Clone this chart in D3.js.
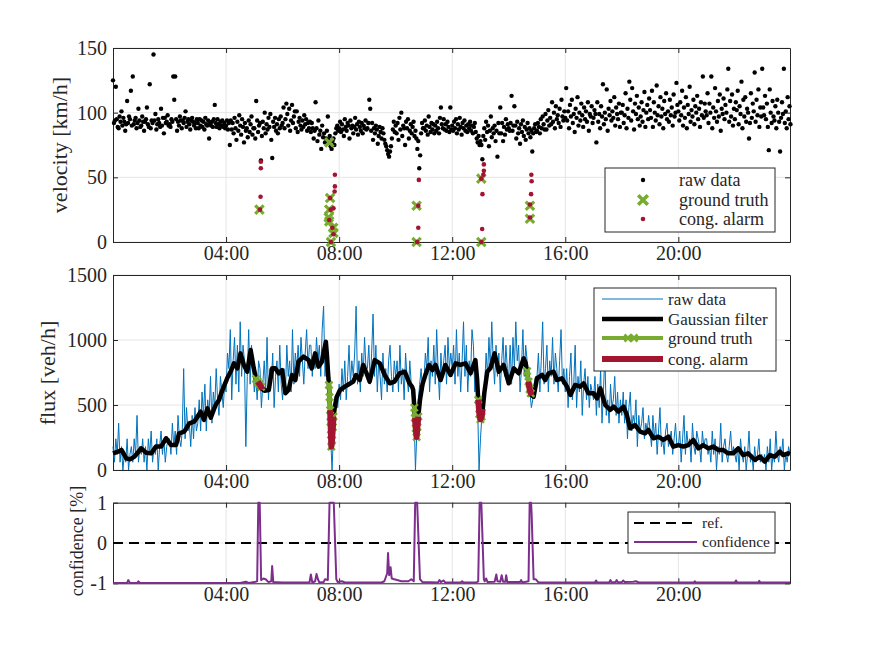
<!DOCTYPE html>
<html>
<head>
<meta charset="utf-8">
<script src="https://cdn.jsdelivr.net/npm/d3@7"></script>
<style>
  body { margin: 0; background: #fff; }
</style>
</head>
<body>
<div id="root"></div>
<script>
// time axis (hours of the day)
var hourTicks = [4, 8, 12, 16, 20];
var tMax = 23.95;
var velocityTicks = [0, 50, 100, 150];
var fluxTicks = [0, 500, 1000, 1500];
var confTicks = [-1, 0, 1];

// raw velocity [km/h], one sample every 2 min from 00:00 (one row = one hour)
var velocityStep = 2 / 60;
var velocity = [
  125,92,94,120,95,89,88,97,93,101,90,96,93,86,91,109,92,97,95,117,90,128,91,94,96,88,92,103,94,89,
  90,97,93,86,93,95,104,91,89,122,88,94,92,145,94,99,87,91,95,92,89,103,90,96,84,96,92,93,98,90,
  91,89,95,93,128,110,128,95,86,93,90,97,94,88,94,92,96,101,89,93,95,91,87,94,96,93,90,92,88,95,
  92,88,95,90,94,89,93,87,96,91,90,94,80,92,90,93,89,95,106,92,89,95,91,88,93,90,94,89,92,88,
  90,94,87,92,75,94,87,92,84,96,88,79,93,86,98,90,83,95,89,77,92,86,88,81,94,85,91,97,83,88,
  88,80,109,94,85,90,92,63,82,93,88,100,84,91,87,96,89,99,79,65,93,89,96,86,91,84,95,88,97,90,
  92,104,88,95,107,99,90,103,86,94,106,92,97,101,88,101,85,93,96,90,87,94,89,98,91,95,86,92,88,93,
  85,92,88,80,86,108,88,78,94,83,86,72,90,81,84,77,80,86,97,79,82,74,72,78,80,75,84,88,90,86,
  88,93,85,91,87,82,95,89,86,92,90,80,94,88,90,84,89,96,87,91,83,93,89,86,92,84,90,88,94,87,
  88,92,110,103,86,92,79,88,84,90,87,76,82,89,85,80,88,84,79,76,74,71,68,66,70,74,80,87,93,85,
  90,84,92,79,96,87,100,82,90,88,75,93,88,95,80,86,91,84,89,93,82,86,80,72,78,57,67,84,92,88,
  88,94,86,90,83,97,89,85,92,87,91,84,90,86,93,88,84,96,104,91,88,95,87,91,86,93,89,85,104,87,
  90,86,93,88,95,84,91,87,96,89,83,92,88,94,86,90,85,91,88,93,86,90,84,89,92,85,80,77,82,75,
  78,75,64,82,88,79,93,85,90,74,86,97,81,88,84,90,78,86,66,92,84,104,84,92,78,89,83,95,87,91,
  88,86,92,113,86,90,105,90,80,93,84,88,76,91,85,94,82,89,79,87,92,84,88,81,86,70,84,88,91,85,
  86,92,89,84,95,88,97,91,87,99,87,94,102,90,96,91,108,93,100,88,105,95,98,92,103,89,110,97,94,101,
  96,119,94,101,88,106,97,110,92,99,85,103,96,112,90,100,94,107,98,89,104,95,101,93,108,86,99,97,105,92,
  96,102,99,77,108,93,99,88,105,97,122,91,100,95,118,86,103,98,109,94,101,96,112,90,104,99,95,107,89,100,
  100,106,92,98,115,88,103,96,124,110,94,119,101,87,107,99,113,95,104,90,97,108,93,102,116,89,100,106,95,111,
  102,96,117,89,108,100,94,121,98,105,91,112,97,103,88,109,99,115,95,101,93,110,98,104,90,114,97,100,123,106,
  101,94,108,98,117,90,104,96,112,88,106,99,120,93,102,97,110,91,105,100,113,95,103,89,108,98,128,96,107,101,
  98,115,92,107,100,128,88,104,96,119,101,93,109,97,114,86,103,99,111,95,106,100,118,134,93,109,97,114,90,103,
  95,108,102,117,91,105,99,124,88,110,97,112,93,103,100,80,92,115,96,107,101,131,93,110,98,118,89,104,97,134,
  104,98,113,95,107,89,71,118,100,92,109,97,94,105,88,110,100,93,70,96,108,99,134,92,101,88,112,95,105,91
];

// ground truth and congestion alarm on the velocity panel [hour, km/h]
var gtVelocity = [
  [5.18,25],[7.65,77],[7.68,34],[7.65,25],[7.63,19],[7.65,16],[7.79,11],[7.8,7],[7.71,0],
  [10.74,28],[10.74,0],[13.03,49],[13.03,0],[14.75,28],[14.75,18]
];
var alarmVelocity = [
  [5.23,62],[5.23,57],[5.22,35],[5.2,25],
  [7.85,52],[7.85,43],[7.84,39],[7.68,34],[7.8,26],[7.7,25],[7.65,17],[7.76,11],[7.8,6],[7.71,0],
  [10.82,48],[10.8,28],[10.8,11],[10.76,0],
  [13.12,60],[13.12,55],[13.1,52],[13.03,49],[13.07,37],[13.06,10],[13.03,0],
  [14.8,52],[14.81,47],[14.79,37],[14.75,29],[14.75,19]
];

// raw flux [veh/h], one sample every 3 min from 00:00 (one row = one hour)
var fluxStep = 3 / 60;
var flux = [
  180,60,240,120,360,60,180,0,120,60,240,0,120,180,60,240,120,420,60,180,
  120,240,60,180,0,240,120,300,60,180,120,240,0,180,300,120,240,60,180,240,
  240,120,360,180,300,120,420,240,180,300,780,240,480,300,360,180,420,240,480,300,
  360,540,300,600,420,660,300,540,420,720,360,600,480,780,540,420,720,600,480,660,
  600,900,780,1080,540,840,1020,660,960,600,1140,720,960,840,180,720,1080,660,960,780,
  600,720,540,840,780,480,660,840,600,1020,540,780,660,900,480,720,840,600,960,660,
  540,780,600,960,720,840,600,1080,660,900,780,960,720,1020,840,660,900,1080,780,960,
  960,720,900,780,1020,840,960,720,1080,1260,720,900,600,420,240,0,300,420,540,480,
  660,540,780,600,840,540,720,960,660,840,720,900,1260,660,840,600,900,720,1020,780,
  780,960,660,900,1200,720,960,600,840,720,540,900,660,780,600,840,960,720,600,840,
  720,840,600,960,660,780,540,900,720,600,840,660,540,420,0,300,540,660,780,600,
  660,900,780,1020,600,840,720,960,660,1080,780,540,900,720,840,960,660,1020,780,900,
  780,960,660,1080,720,900,600,840,1140,720,960,600,840,720,1080,960,600,720,480,0,
  240,420,540,660,900,720,1020,780,1140,840,660,960,720,900,600,840,1020,720,960,780,
  720,960,660,1020,780,1140,840,960,600,780,1080,720,960,840,660,600,480,540,660,720,
  720,900,600,840,1140,660,780,960,600,840,720,1020,660,900,780,600,840,1080,660,780,
  600,780,480,720,900,540,660,960,480,720,600,840,420,660,780,540,720,480,660,600,
  540,720,420,660,480,780,360,600,900,420,540,360,660,480,540,720,420,600,360,540,
  420,600,360,540,240,480,600,300,420,360,540,180,420,300,360,480,240,360,300,420,
  300,180,420,240,360,120,300,480,180,240,120,300,360,180,240,300,120,240,360,180,
  180,300,60,240,420,120,300,180,240,60,360,180,120,300,240,180,60,300,180,240,
  240,120,180,60,300,120,240,0,180,120,360,60,180,240,120,60,180,300,120,180,
  120,60,180,0,240,120,60,180,0,120,300,60,120,0,180,60,120,240,60,120,
  60,120,0,180,60,240,0,120,60,300,120,60,180,120,240,0,120,60,180,120
];

// Gaussian filtered flux [hour, veh/h]
var gaussian = [
  [0,128],[0.18,141],[0.3,154],[0.47,90],[0.6,82],[0.76,103],[1.0,167],[1.17,133],[1.35,128],
  [1.52,180],[1.7,180],[1.88,244],[2.05,192],[2.23,192],[2.34,282],[2.52,295],[2.7,359],[2.87,372],
  [2.99,410],[3.1,449],[3.22,385],[3.34,474],[3.46,403],[3.63,500],[3.75,538],[3.87,615],[4.04,705],
  [4.16,756],[4.28,820],[4.4,782],[4.51,897],[4.63,808],[4.75,756],[4.87,923],[4.98,782],
  [5.06,700],[5.12,680],[5.18,660],[5.24,640],[5.3,620],[5.36,610],[5.51,615],[5.63,782],[5.74,782],
  [5.86,744],[5.98,769],[6.1,590],[6.21,615],[6.33,731],[6.45,692],[6.56,833],[6.74,872],[6.92,846],
  [7.03,782],[7.15,897],[7.27,795],[7.39,833],[7.45,900],[7.53,987],[7.57,880],[7.61,740],
  [7.64,654],[7.66,560],[7.68,460],[7.695,370],[7.71,270],[7.725,180],[7.75,230],[7.78,330],
  [7.8,410],[7.85,487],[7.91,560],[8.03,615],[8.2,641],[8.3,654],[8.5,680],[8.6,731],[8.73,692],
  [8.85,808],[8.97,744],[9.08,680],[9.26,846],[9.44,820],[9.61,731],[9.79,667],[9.96,680],
  [10.14,744],[10.32,756],[10.49,667],[10.58,640],[10.62,615],[10.66,480],[10.68,400],[10.71,320],
  [10.74,254],[10.77,330],[10.8,410],[10.86,540],[10.95,660],[11.05,730],[11.18,808],[11.3,769],
  [11.41,808],[11.59,692],[11.76,808],[11.94,731],[12.12,820],[12.29,808],[12.47,820],[12.65,744],
  [12.82,846],[12.88,700],
  [12.92,540],[12.96,430],[13.0,390],[13.04,410],[13.08,470],[13.14,600],[13.24,756],[13.35,782],
  [13.5,897],[13.65,756],[13.82,808],[14.0,667],[14.18,782],[14.35,744],[14.53,859],[14.6,820],
  [14.65,760],[14.7,680],[14.74,620],[14.78,590],[14.82,575],[14.88,564],[15.0,705],[15.18,731],
  [15.29,692],[15.41,744],[15.59,756],[15.7,692],[15.88,705],[16.06,641],[16.18,577],[16.35,654],
  [16.53,641],[16.65,667],[16.82,590],[17.0,590],[17.12,551],[17.24,628],[17.41,500],[17.59,462],
  [17.71,487],[17.88,449],[18.06,487],[18.18,423],[18.29,321],[18.47,346],[18.65,295],[18.82,282],
  [18.94,308],[19.12,244],[19.29,256],[19.47,231],[19.65,256],[19.82,180],[20.0,192],[20.18,180],
  [20.35,192],[20.53,231],[20.71,167],[20.88,192],[21.06,167],[21.24,180],[21.41,154],[21.59,154],
  [21.76,128],[21.94,128],[22.12,167],[22.29,115],[22.47,128],[22.71,77],[22.88,103],[23.06,64],
  [23.24,115],[23.41,103],[23.59,141],[23.71,115],[23.88,128],[23.95,120]
];

// ground truth and alarm periods [start hour, end hour]
var gtPeriods = [[5.05,5.25],[7.63,7.81],[10.66,10.8],[12.9,13.06],[14.63,14.8]];
var alarmPeriods = [[5.1,5.3],[7.67,7.81],[10.68,10.8],[12.92,13.08],[14.68,14.82]];

// confidence [hour, value]
var confidence = [
  [0,-0.99],[0.5,-0.99],[0.54,-0.92],[0.6,-0.99],[0.86,-0.99],[0.9,-0.95],[0.95,-0.99],
  [4.5,-0.99],[4.7,-0.96],[4.8,-0.99],[5.0,-0.97],[5.1,-0.95],[5.14,1],[5.19,1],[5.24,-0.92],
  [5.32,-0.88],[5.4,-0.9],[5.5,-0.97],[5.6,-0.95],[5.63,-0.57],[5.67,-0.97],[6.0,-0.98],
  [6.95,-0.98],[7.0,-0.78],[7.05,-0.98],[7.15,-0.95],[7.2,-0.77],[7.25,-0.9],[7.3,-0.98],
  [7.45,-0.97],[7.5,-0.9],[7.6,-0.92],[7.66,1],[7.81,1],[7.9,-0.9],[7.95,-0.97],[8.1,-0.95],
  [8.2,-0.98],[9.5,-0.98],[9.6,-0.95],[9.7,-0.75],[9.73,-0.25],[9.77,-0.8],[9.82,-0.6],
  [9.86,-0.88],[9.95,-0.9],[10.05,-0.92],[10.2,-0.95],[10.45,-0.95],[10.55,-0.9],[10.64,-0.95],
  [10.69,1],[10.76,1],[10.86,-0.9],[10.95,-0.97],[11.5,-0.98],[11.55,-0.92],[11.6,-0.97],
  [11.7,-0.93],[11.75,-0.98],[12.3,-0.98],[12.35,-0.95],[12.4,-0.98],[12.85,-0.98],[12.92,-0.95],
  [12.97,1],[13.03,1],[13.12,-0.9],[13.15,-0.95],[13.2,-0.88],[13.25,-0.97],[13.5,-0.96],
  [13.56,-0.78],[13.6,-0.95],[13.7,-0.96],[13.75,-0.8],[13.8,-0.96],[13.88,-0.96],[13.91,-0.8],
  [13.95,-0.97],[14.4,-0.97],[14.44,-0.92],[14.48,-0.98],[14.7,-0.95],[14.74,1],[14.79,1],
  [14.81,0.72],[14.88,-0.9],[14.96,-0.9],[15.05,-0.98],[17.05,-0.98],[17.09,-0.93],[17.13,-0.98],
  [17.55,-0.98],[17.6,-0.92],[17.64,-0.98],[17.78,-0.97],[17.82,-0.92],[17.86,-0.98],[18.0,-0.97],
  [18.05,-0.93],[18.1,-0.97],[18.4,-0.96],[18.5,-0.95],[18.6,-0.98],[20.55,-0.98],[20.58,-0.95],
  [20.62,-0.98],[22.0,-0.98],[22.04,-0.93],[22.08,-0.98],[22.83,-0.98],[22.86,-0.94],[22.9,-0.98],
  [23.95,-0.98]
];
var refLevel = 0;

function drawChart () {

  var width = 875;
  var height = 656;
  var ink = '#262626';
  var green = '#77AC30';
  var red = '#A2142F';
  var serif = '"Liberation Serif"';

  var svg = d3.select('#root')
    .append('svg')
      .attr('width', width)
      .attr('height', height);

  var x = d3.scaleLinear().domain([0, tMax]).range([113, 790]);
  var yVel = d3.scaleLinear().domain([0, 150]).range([242, 48]);
  var yFlux = d3.scaleLinear().domain([0, 1500]).range([470, 275]);
  var yConf = d3.scaleLinear().domain([-1, 1]).range([583.3, 502.7]);

  function hourLabel(h) { return (h < 10 ? '0' : '') + h + ':00'; }

  function cross(s) {
    return 'M' + (-s) + ',' + (-s) + 'L' + s + ',' + s + 'M' + (-s) + ',' + s + 'L' + s + ',' + (-s);
  }

  function inPeriods(periods) {
    return periods.map(function(p) {
      return gaussian.filter(function(d) { return d[0] >= p[0] && d[0] <= p[1]; });
    });
  }

  function styleAxis(g) {
    g.attr('font-family', null);
    g.selectAll('path').attr('stroke', ink).attr('stroke-width', 1);
    g.selectAll('line').attr('stroke', ink).attr('stroke-width', 1);
    g.selectAll('text')
      .style('font-family', serif)
      .style('font-size', '20px')
      .attr('fill', ink);
  }

  // grid, box, ticks for one panel
  function frame(y, ticks, fmt) {
    var x0 = x.range()[0], x1 = x.range()[1];
    var yb = y.range()[0], yt = y.range()[1];
    var grid = svg.append('g').attr('stroke', '#dedede').attr('stroke-width', 0.8);
    grid.selectAll('.gx').data(hourTicks).enter().append('line')
      .attr('x1', function(d) { return x(d); }).attr('x2', function(d) { return x(d); })
      .attr('y1', yb).attr('y2', yt);
    grid.selectAll('.gy').data(ticks).enter().append('line')
      .attr('x1', x0).attr('x2', x1)
      .attr('y1', function(d) { return y(d); }).attr('y2', function(d) { return y(d); });

    svg.append('g').attr('transform', 'translate(0,' + yb + ')')
      .call(d3.axisBottom(x).tickValues(hourTicks).tickFormat(hourLabel)
        .tickSize(-5).tickSizeOuter(0).tickPadding(4))
      .call(styleAxis);
    svg.append('g').attr('transform', 'translate(0,' + yt + ')')
      .call(d3.axisTop(x).tickValues(hourTicks).tickFormat('')
        .tickSize(-5).tickSizeOuter(0))
      .call(styleAxis);
    svg.append('g').attr('transform', 'translate(' + x0 + ',0)')
      .call(d3.axisLeft(y).tickValues(ticks).tickFormat(fmt)
        .tickSize(-5).tickSizeOuter(0).tickPadding(6))
      .call(styleAxis);
    svg.append('g').attr('transform', 'translate(' + x1 + ',0)')
      .call(d3.axisRight(y).tickValues(ticks).tickFormat('')
        .tickSize(-5).tickSizeOuter(0))
      .call(styleAxis);
  }

  function yLabel(text, xPos, yPos, size) {
    svg.append('text')
      .attr('transform', 'translate(' + xPos + ',' + yPos + ') rotate(-90)')
      .attr('text-anchor', 'middle')
      .attr('fill', ink)
      .style('font-family', serif)
      .style('font-size', size + 'px')
      .text(text);
  }

  function legendBox(x0, y0, x1, y1) {
    svg.append('rect')
      .attr('x', x0).attr('y', y0).attr('width', x1 - x0).attr('height', y1 - y0)
      .attr('fill', '#fff').attr('stroke', ink).attr('stroke-width', 1);
  }

  function legendText(text, xPos, yPos, size) {
    svg.append('text')
      .attr('x', xPos).attr('y', yPos).attr('dy', '0.33em')
      .attr('fill', ink)
      .style('font-family', serif)
      .style('font-size', size + 'px')
      .text(text);
  }

  // ---- velocity panel
  frame(yVel, velocityTicks, function(d) { return d; });
  yLabel('velocity [km/h]', 67, 145, 22);

  svg.append('g').selectAll('circle')
    .data(velocity)
    .enter()
    .append('circle')
      .attr('cx', function(d, i) { return x(i * velocityStep); })
      .attr('cy', function(d) { return yVel(d); })
      .attr('r', 2.2)
      .attr('fill', '#000');

  svg.append('g').selectAll('path')
    .data(gtVelocity)
    .enter()
    .append('path')
      .attr('transform', function(d) { return 'translate(' + x(d[0]) + ',' + yVel(d[1]) + ')'; })
      .attr('d', cross(4.2))
      .attr('stroke', green)
      .attr('stroke-width', 3.2)
      .attr('fill', 'none');

  svg.append('g').selectAll('circle')
    .data(alarmVelocity)
    .enter()
    .append('circle')
      .attr('cx', function(d) { return x(d[0]); })
      .attr('cy', function(d) { return yVel(d[1]); })
      .attr('r', 2.3)
      .attr('fill', red);

  legendBox(605, 168, 775, 232);
  svg.append('circle').attr('cx', 643).attr('cy', 180).attr('r', 2.2).attr('fill', '#000');
  svg.append('path').attr('transform', 'translate(643,200)').attr('d', cross(4.8))
    .attr('stroke', green).attr('stroke-width', 3.6).attr('fill', 'none');
  svg.append('circle').attr('cx', 643).attr('cy', 219).attr('r', 2.3).attr('fill', red);
  legendText('raw data', 679, 180, 18);
  legendText('ground truth', 679, 200, 18);
  legendText('cong. alarm', 679, 219, 18);

  // ---- flux panel
  frame(yFlux, fluxTicks, function(d) { return d; });
  yLabel('flux [veh/h]', 55, 373, 22);

  var fluxLine = d3.line()
    .x(function(d, i) { return x(i * fluxStep); })
    .y(function(d) { return yFlux(d); });
  var pairLine = d3.line()
    .x(function(d) { return x(d[0]); })
    .y(function(d) { return yFlux(d[1]); });

  svg.append('path')
    .attr('d', fluxLine(flux))
    .attr('fill', 'none')
    .attr('stroke', '#0072BD')
    .attr('stroke-width', 1);

  svg.append('path')
    .attr('d', pairLine(gaussian))
    .attr('fill', 'none')
    .attr('stroke', '#000')
    .attr('stroke-width', 4.5)
    .attr('stroke-linejoin', 'round');

  var gtSegs = inPeriods(gtPeriods);
  svg.append('g').selectAll('path')
    .data(gtSegs)
    .enter()
    .append('path')
      .attr('d', function(d) { return pairLine(d); })
      .attr('fill', 'none')
      .attr('stroke', green)
      .attr('stroke-width', 4)
      .attr('stroke-linejoin', 'round');
  svg.append('g').selectAll('path')
    .data(d3.merge(gtSegs))
    .enter()
    .append('path')
      .attr('transform', function(d) { return 'translate(' + x(d[0]) + ',' + yFlux(d[1]) + ')'; })
      .attr('d', cross(3.5))
      .attr('stroke', green)
      .attr('stroke-width', 2.6)
      .attr('fill', 'none');

  svg.append('g').selectAll('path')
    .data(inPeriods(alarmPeriods))
    .enter()
    .append('path')
      .attr('d', function(d) { return pairLine(d); })
      .attr('fill', 'none')
      .attr('stroke', red)
      .attr('stroke-width', 6)
      .attr('stroke-linejoin', 'round');

  legendBox(594, 288, 776, 371);
  svg.append('line').attr('x1', 602).attr('x2', 663).attr('y1', 299).attr('y2', 299)
    .attr('stroke', '#0072BD').attr('stroke-width', 1);
  svg.append('line').attr('x1', 602).attr('x2', 663).attr('y1', 319).attr('y2', 319)
    .attr('stroke', '#000').attr('stroke-width', 4.5);
  svg.append('line').attr('x1', 602).attr('x2', 663).attr('y1', 338).attr('y2', 338)
    .attr('stroke', green).attr('stroke-width', 4);
  [628, 634].forEach(function(mx) {
    svg.append('path').attr('transform', 'translate(' + mx + ',338)').attr('d', cross(3.5))
      .attr('stroke', green).attr('stroke-width', 2.6).attr('fill', 'none');
  });
  svg.append('line').attr('x1', 602).attr('x2', 663).attr('y1', 359).attr('y2', 359)
    .attr('stroke', red).attr('stroke-width', 6);
  legendText('raw data', 668, 299, 17);
  legendText('Gaussian filter', 668, 319, 17);
  legendText('ground truth', 668, 338, 17);
  legendText('cong. alarm', 668, 359, 17);

  // ---- confidence panel
  frame(yConf, confTicks, function(d) { return String(d); });
  yLabel('confidence [%]', 83, 541, 18);

  svg.append('line')
    .attr('x1', x(0)).attr('x2', x(tMax))
    .attr('y1', yConf(refLevel)).attr('y2', yConf(refLevel))
    .attr('stroke', '#000')
    .attr('stroke-width', 2)
    .attr('stroke-dasharray', '10,6');

  svg.append('path')
    .attr('d', d3.line()
      .x(function(d) { return x(d[0]); })
      .y(function(d) { return yConf(d[1]); })(confidence))
    .attr('fill', 'none')
    .attr('stroke', '#7E2F8E')
    .attr('stroke-width', 2)
    .attr('stroke-linejoin', 'round');

  legendBox(628, 512, 775, 553);
  svg.append('line').attr('x1', 634).attr('x2', 697).attr('y1', 523).attr('y2', 523)
    .attr('stroke', '#000').attr('stroke-width', 2).attr('stroke-dasharray', '10,6');
  svg.append('line').attr('x1', 634).attr('x2', 697).attr('y1', 542).attr('y2', 542)
    .attr('stroke', '#7E2F8E').attr('stroke-width', 2);
  legendText('ref.', 702, 523, 15.5);
  legendText('confidence', 702, 542, 15.5);

}

drawChart();
</script>
</body>
</html>
